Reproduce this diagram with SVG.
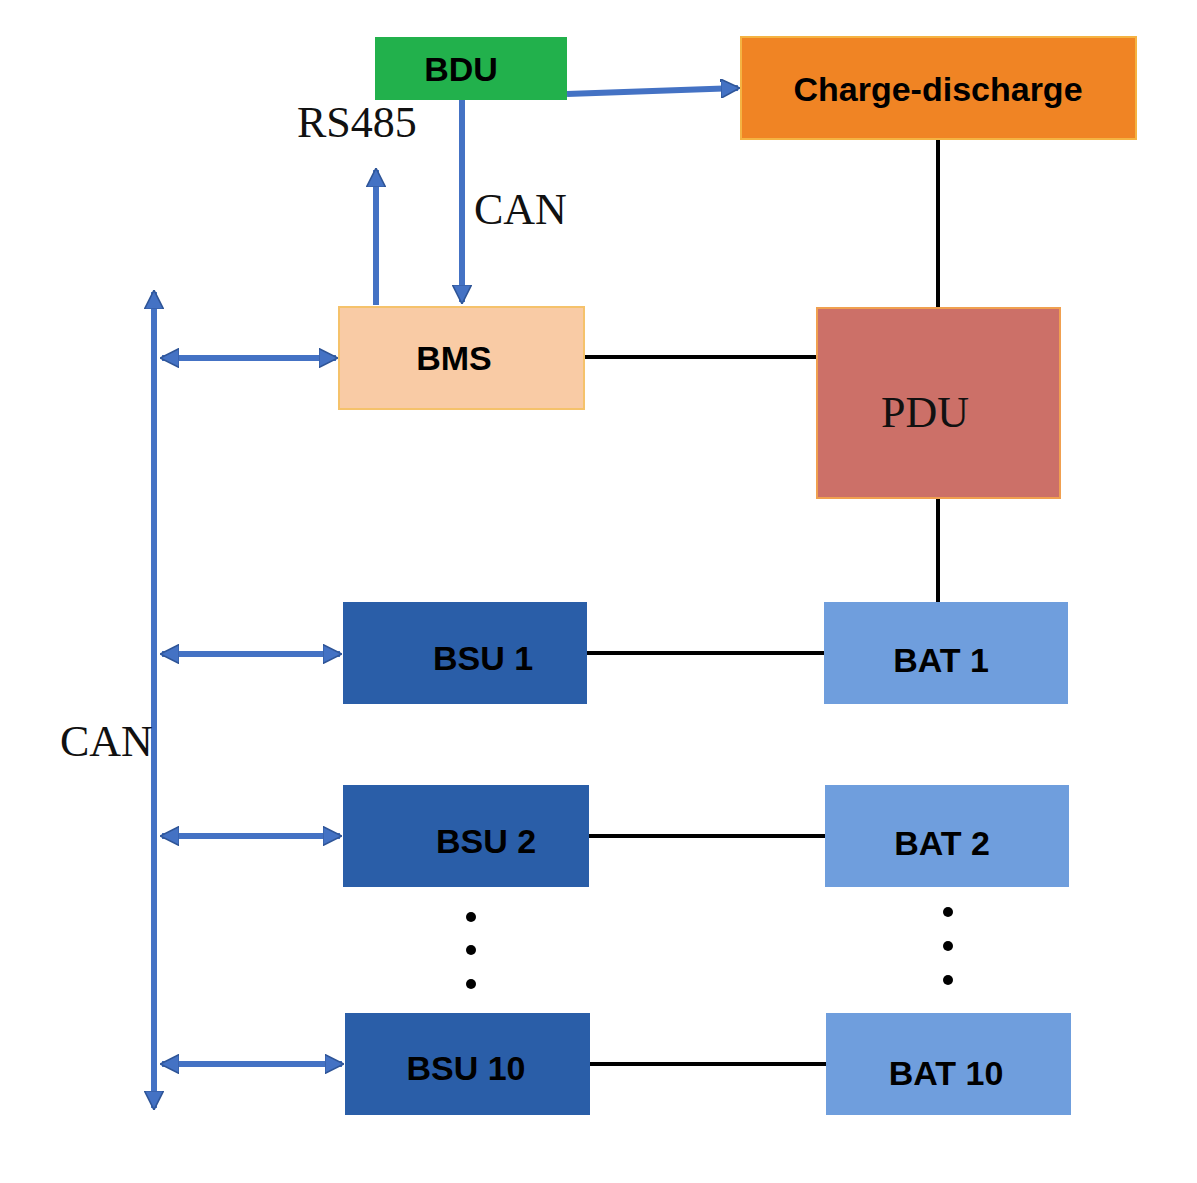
<svg xmlns="http://www.w3.org/2000/svg" width="1197" height="1183" viewBox="0 0 1197 1183">
<style>
.b{stroke:#4472c4;stroke-width:6;fill:none}
.k{stroke:#000;stroke-width:4;fill:none}
.t{font-family:"Liberation Sans",Arial,sans-serif;font-weight:bold;font-size:34px;text-anchor:middle;fill:#000}
.s{font-family:"Liberation Serif","Times New Roman",serif;font-size:44px;fill:#111}
</style>
<defs>
<marker id="a" viewBox="0 0 10 10" refX="9" refY="5" markerWidth="3.2" markerHeight="3.2" orient="auto-start-reverse" markerUnits="strokeWidth">
<path d="M0,0 L10,5 L0,10 z" fill="#4472c4" stroke="#2f5597" stroke-width="0.8"/>
</marker>
</defs>
<rect width="1197" height="1183" fill="#fff"/>
<g id="connectors">
<line class="b" x1="154" y1="1108" x2="154" y2="292" marker-start="url(#a)" marker-end="url(#a)"/>
<line class="b" x1="162" y1="358" x2="336" y2="358" marker-start="url(#a)" marker-end="url(#a)"/>
<line class="b" x1="162" y1="654" x2="340" y2="654" marker-start="url(#a)" marker-end="url(#a)"/>
<line class="b" x1="162" y1="836" x2="340" y2="836" marker-start="url(#a)" marker-end="url(#a)"/>
<line class="b" x1="162" y1="1064" x2="342" y2="1064" marker-start="url(#a)" marker-end="url(#a)"/>
<line class="b" x1="376" y1="305" x2="376" y2="170" marker-end="url(#a)"/>
<line class="b" x1="462" y1="100" x2="462" y2="302" marker-end="url(#a)"/>
<line class="b" x1="567" y1="94" x2="738" y2="88" marker-end="url(#a)"/>
<line class="k" x1="938" y1="139" x2="938" y2="308"/>
<line class="k" x1="584" y1="357" x2="817" y2="357"/>
<line class="k" x1="938" y1="498" x2="938" y2="602"/>
<line class="k" x1="587" y1="653" x2="824" y2="653"/>
<line class="k" x1="589" y1="836" x2="825" y2="836"/>
<line class="k" x1="590" y1="1064" x2="826" y2="1064"/>
</g>
<g id="labels">
<text class="s" x="297" y="137">RS485</text>
<text class="s" x="474" y="224">CAN</text>
<text class="s" x="60" y="756">CAN</text>
</g>
<g id="BDU"><rect x="375" y="37" width="192" height="63" fill="#22b14c"/><text class="t" x="461" y="81">BDU</text></g>
<g id="Charge"><rect x="741" y="37" width="395" height="102" fill="#f08424" stroke="#f5b342" stroke-width="2"/><text class="t" x="938" y="101">Charge-discharge</text></g>
<g id="BMS"><rect x="339" y="307" width="245" height="102" fill="#f9cba5" stroke="#f5c26b" stroke-width="2"/><text class="t" x="454" y="370">BMS</text></g>
<g id="PDU"><rect x="817" y="308" width="243" height="190" fill="#cc7068" stroke="#f0a050" stroke-width="2"/><text class="s" x="925" y="427" text-anchor="middle">PDU</text></g>
<g id="BSU1"><rect x="343" y="602" width="244" height="102" fill="#2a5ea8"/><text class="t" x="483" y="670">BSU 1</text></g>
<g id="BSU2"><rect x="343" y="785" width="246" height="102" fill="#2a5ea8"/><text class="t" x="486" y="853">BSU 2</text></g>
<g id="BSU10"><rect x="345" y="1013" width="245" height="102" fill="#2a5ea8"/><text class="t" x="466" y="1080">BSU 10</text></g>
<g id="BAT1"><rect x="824" y="602" width="244" height="102" fill="#6f9edd"/><text class="t" x="941" y="672">BAT 1</text></g>
<g id="BAT2"><rect x="825" y="785" width="244" height="102" fill="#6f9edd"/><text class="t" x="942" y="855">BAT 2</text></g>
<g id="BAT10"><rect x="826" y="1013" width="245" height="102" fill="#6f9edd"/><text class="t" x="946" y="1085">BAT 10</text></g>
<g id="dots" fill="#000">
<circle cx="471" cy="917" r="5"/><circle cx="471" cy="950" r="5"/><circle cx="471" cy="984" r="5"/>
<circle cx="948" cy="912" r="5"/><circle cx="948" cy="946" r="5"/><circle cx="948" cy="980" r="5"/>
</g>
</svg>
